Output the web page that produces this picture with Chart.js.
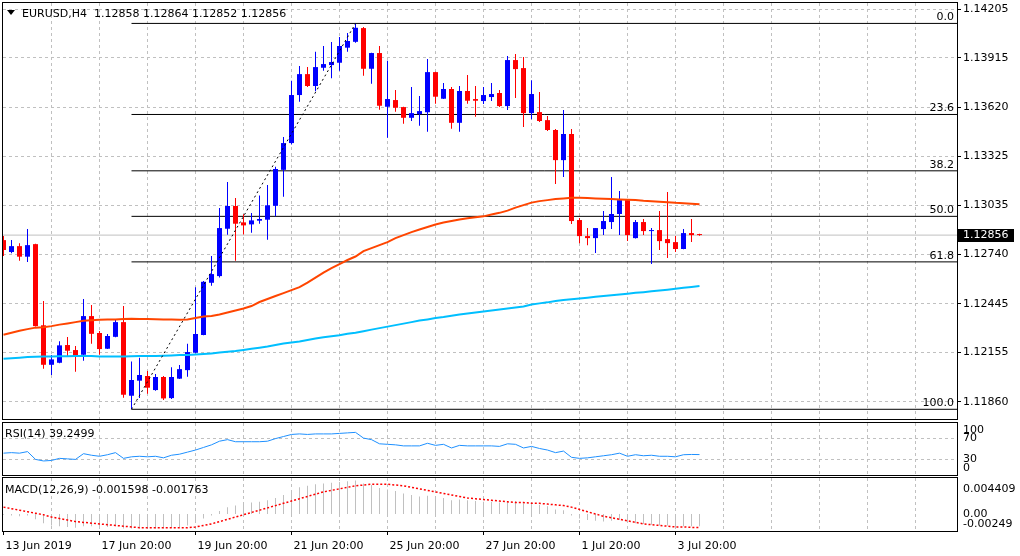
<!DOCTYPE html>
<html>
<head>
<meta charset="utf-8">
<title>EURUSD,H4</title>
<script src="https://cdn.jsdelivr.net/npm/chart.js@4.4.0/dist/chart.umd.min.js"></script>
<style>
  html, body { margin: 0; padding: 0; background: #fff; }
  #wrap { position: relative; width: 1020px; height: 556px; overflow: hidden; background: #fff;
          font-family: "DejaVu Sans", sans-serif; font-size: 11px; color: #000; }
  #wrap canvas { position: absolute; left: 0; }
  .txt { position: absolute; white-space: pre; line-height: 13px; }
  #tri { position: absolute; left: 7px; top: 10px; width: 0; height: 0;
         border-left: 4px solid transparent; border-right: 4px solid transparent; border-top: 5px solid #000; }
</style>
</head>
<body>
<div id="wrap">
  <canvas id="mainChart" width="1020" height="421" style="top:0"></canvas>
  <canvas id="rsiChart" width="1020" height="56" style="top:421px"></canvas>
  <canvas id="macdChart" width="1020" height="79" style="top:477px"></canvas>
  <div id="tri"></div>
  <div class="txt" id="headTxt" style="left:22px;top:7px"></div>
  <div class="txt" id="rsiTxt" style="left:5px;top:427px"></div>
  <div class="txt" id="macdTxt" style="left:5px;top:483px"></div>
</div>
<script>
// ---- data (one entry per bar) ----
const symbol = 'EURUSD,H4';
const dateLabels = ['13 Jun 2019', '17 Jun 20:00', '19 Jun 20:00', '21 Jun 20:00',
                    '25 Jun 20:00', '27 Jun 20:00', '1 Jul 20:00', '3 Jul 20:00'];
const priceTicks = [1.14205, 1.13915, 1.13620, 1.13325, 1.13035, 1.12740, 1.12445, 1.12155, 1.11860];

const opens = [1.12826,1.12755,1.12790,1.12727,1.12802,1.12317,1.12081,1.12093,1.12199,1.12169,
 1.12141,1.12372,1.12271,1.12177,1.12248,1.12336,1.11896,1.11986,1.12014,1.11930,
 1.12008,1.11882,1.11998,1.12049,1.12153,1.12259,1.12571,1.12611,1.12894,1.13030,
 1.12932,1.12920,1.12942,1.12948,1.13031,1.13246,1.13406,1.13693,1.13818,1.13747,
 1.13856,1.13872,1.13886,1.13976,1.14011,1.14093,1.13850,1.13944,1.13623,1.13663,
 1.13621,1.13557,1.13579,1.13590,1.13830,1.13671,1.13729,1.13527,1.13717,1.13669,
 1.13657,1.13681,1.13705,1.13627,1.13902,1.13854,1.13585,1.13591,1.13543,1.13484,
 1.13304,1.13460,1.12946,1.12850,1.12838,1.12892,1.12934,1.12982,1.13065,1.12838,
 1.12934,1.12880,1.12886,1.12832,1.12814,1.12773,1.12868,1.12858];
const highs = [1.12850,1.12826,1.12807,1.12892,1.12805,1.12462,1.12139,1.12221,1.12247,1.12193,
 1.12474,1.12438,1.12283,1.12265,1.12348,1.12432,1.12101,1.12123,1.12044,1.12026,
 1.12014,1.12067,1.12079,1.12207,1.12545,1.12581,1.12731,1.13018,1.13173,1.13077,
 1.12980,1.12988,1.13093,1.13155,1.13264,1.13442,1.13778,1.13866,1.13860,1.13952,
 1.13986,1.14010,1.14040,1.14063,1.14121,1.14099,1.13946,1.13986,1.13898,1.13723,
 1.13623,1.13741,1.13687,1.13908,1.13832,1.13765,1.13741,1.13747,1.13812,1.13747,
 1.13741,1.13765,1.13723,1.13926,1.13938,1.13920,1.13782,1.13711,1.13567,1.13490,
 1.13603,1.13490,1.12958,1.12898,1.12898,1.13000,1.13203,1.13119,1.13067,1.12946,
 1.12952,1.12898,1.13000,1.13113,1.12850,1.12892,1.12952,1.12864];
const lows = [1.12731,1.12747,1.12703,1.12695,1.12310,1.12057,1.12020,1.12090,1.12133,1.12039,
 1.12105,1.12207,1.12141,1.12175,1.12246,1.11884,1.11815,1.11882,1.11908,1.11926,
 1.11870,1.11876,1.11996,1.12009,1.12150,1.12257,1.12553,1.12603,1.12858,1.12703,
 1.12859,1.12870,1.12924,1.12828,1.12968,1.13085,1.13398,1.13653,1.13741,1.13715,
 1.13838,1.13793,1.13838,1.13952,1.14005,1.13808,1.13760,1.13605,1.13438,1.13593,
 1.13521,1.13538,1.13509,1.13474,1.13641,1.13669,1.13492,1.13474,1.13641,1.13563,
 1.13639,1.13657,1.13621,1.13603,1.13675,1.13502,1.13549,1.13532,1.13478,1.13161,
 1.13203,1.12922,1.12808,1.12796,1.12749,1.12856,1.12892,1.12856,1.12820,1.12836,
 1.12856,1.12683,1.12767,1.12719,1.12755,1.12771,1.12814,1.12852];
const closes = [1.12767,1.12790,1.12727,1.12796,1.12312,1.12081,1.12113,1.12197,1.12165,1.12135,
 1.12372,1.12266,1.12175,1.12253,1.12336,1.11902,1.11990,1.12020,1.11944,1.12008,
 1.11880,1.12008,1.12055,1.12157,1.12265,1.12577,1.12623,1.12898,1.13030,1.12924,
 1.12914,1.12944,1.12952,1.13034,1.13251,1.13406,1.13693,1.13818,1.13747,1.13860,
 1.13878,1.13890,1.13986,1.14016,1.14095,1.13850,1.13944,1.13629,1.13669,1.13617,
 1.13557,1.13585,1.13597,1.13830,1.13683,1.13729,1.13527,1.13717,1.13659,1.13659,
 1.13693,1.13699,1.13627,1.13902,1.13848,1.13585,1.13699,1.13538,1.13484,1.13304,
 1.13460,1.12940,1.12850,1.12838,1.12898,1.12940,1.12982,1.13065,1.12856,1.12934,
 1.12880,1.12886,1.12820,1.12808,1.12773,1.12868,1.12856,1.12856];

// moving averages (orange-red and sky blue)
const maSlow = [1.12260,1.12272,1.12284,1.12294,1.12303,1.12306,1.12312,1.12321,1.12328,1.12336,
 1.12344,1.12347,1.12350,1.12351,1.12352,1.12355,1.12356,1.12355,1.12354,1.12353,
 1.12352,1.12351,1.12350,1.12351,1.12360,1.12369,1.12373,1.12381,1.12393,1.12405,
 1.12417,1.12432,1.12456,1.12474,1.12492,1.12509,1.12527,1.12545,1.12572,1.12602,
 1.12632,1.12659,1.12683,1.12707,1.12728,1.12760,1.12778,1.12796,1.12814,1.12838,
 1.12856,1.12874,1.12889,1.12904,1.12919,1.12931,1.12940,1.12949,1.12956,1.12962,
 1.12968,1.12979,1.12989,1.13002,1.13020,1.13035,1.13050,1.13059,1.13065,1.13071,
 1.13075,1.13079,1.13079,1.13077,1.13075,1.13073,1.13071,1.13069,1.13067,1.13065,
 1.13061,1.13059,1.13056,1.13053,1.13049,1.13047,1.13044,1.13041];
const maSlower = [1.12117,1.12120,1.12123,1.12127,1.12129,1.12130,1.12131,1.12132,1.12132,1.12133,
 1.12133,1.12133,1.12130,1.12130,1.12130,1.12131,1.12132,1.12133,1.12133,1.12134,
 1.12135,1.12137,1.12139,1.12140,1.12142,1.12145,1.12149,1.12154,1.12159,1.12163,
 1.12170,1.12177,1.12183,1.12190,1.12199,1.12208,1.12214,1.12220,1.12229,1.12238,
 1.12246,1.12252,1.12258,1.12266,1.12273,1.12282,1.12291,1.12300,1.12309,1.12318,
 1.12327,1.12336,1.12345,1.12352,1.12360,1.12366,1.12374,1.12381,1.12387,1.12393,
 1.12399,1.12405,1.12411,1.12417,1.12423,1.12429,1.12441,1.12448,1.12454,1.12462,
 1.12468,1.12472,1.12477,1.12482,1.12487,1.12492,1.12496,1.12501,1.12506,1.12511,
 1.12515,1.12520,1.12525,1.12530,1.12536,1.12541,1.12546,1.12552];

const rsi = [42,43,42,45,30,27,28,32,31,30,
 41,38,36,39,43,32,35,36,35,36,
 33,38,40,44,48,53,58,65,68,64,
 64,64,64,65,70,74,78,79,78,79,
 79,79,80,81,82,71,68,60,59,58,
 56,56,56,61,57,59,52,57,56,56,
 56,56,55,60,59,52,55,51,48,43,
 46,34,32,33,35,37,39,42,36,39,
 37,38,36,36,35,39,39.5,39.2499];
const rsiLevels = [100, 70, 30, 0];

const macdMain = [-0.0001,-0.0002,-0.0003,-0.0002,-0.0007,-0.0012,-0.0015,-0.0016,-0.0017,-0.0018,
 -0.0016,-0.0016,-0.0017,-0.0017,-0.0016,-0.0019,-0.0019,-0.0019,-0.0019,-0.0019,
 -0.0019,-0.0018,-0.0017,-0.0015,-0.0011,-0.0006,-0.0002,0.0004,0.0009,0.0011,
 0.0013,0.0015,0.0016,0.0018,0.0021,0.0025,0.0031,0.0035,0.0037,0.0039,
 0.0040,0.0041,0.0042,0.0043,0.0044,0.0040,0.0038,0.0034,0.0032,0.0030,
 0.0027,0.0025,0.0023,0.0024,0.0022,0.0021,0.0018,0.0019,0.0018,0.0017,
 0.0016,0.0016,0.0015,0.0017,0.0017,0.0014,0.0014,0.0012,0.0010,0.0006,
 0.0005,-0.0002,-0.0006,-0.0008,-0.0009,-0.0010,-0.0009,-0.0008,-0.0011,-0.0012,
 -0.0013,-0.0014,-0.0015,-0.0015,-0.0016,-0.0016,-0.0016,-0.001598];
const macdSignal = [0.0009,0.0007,0.0005,0.0003,0.0001,-0.0001,-0.0004,-0.0006,-0.0008,-0.0010,
 -0.0011,-0.0012,-0.0013,-0.0014,-0.0015,-0.0016,-0.0017,-0.0018,-0.0018,-0.0018,
 -0.0018,-0.0018,-0.0018,-0.0018,-0.0017,-0.0015,-0.0013,-0.0010,-0.0007,-0.0004,
 -0.0001,0.0002,0.0005,0.0008,0.0011,0.0014,0.0017,0.0020,0.0023,0.0026,
 0.0029,0.0031,0.0033,0.0035,0.0037,0.0038,0.0039,0.0039,0.0039,0.0038,
 0.0037,0.0035,0.0033,0.0031,0.0029,0.0027,0.0025,0.0023,0.0021,0.0020,
 0.0019,0.0018,0.0017,0.0016,0.0015,0.0015,0.0014,0.0014,0.0013,0.0012,
 0.0011,0.0009,0.0006,0.0003,0.0000,-0.0003,-0.0005,-0.0007,-0.0009,-0.0011,
 -0.0013,-0.0014,-0.0015,-0.0016,-0.0017,-0.0017,-0.00176,-0.001763];
const macdLevels = [0.004409, 0, -0.00249];
const macdLevelLabels = ['0.004409', '0.00', '-0.00249'];

// fibonacci retracement drawn from the 18 Jun low to the 25 Jun high
const fibLowBar = 16, fibHighBar = 44;
const fibLow = 1.11815, fibHigh = 1.14121;
const fibLevels = [0, 23.6, 38.2, 50, 61.8, 100];

// ---- layout constants ----
const X_MIN = -0.0625, X_MAX = 119.1875;   // 8px per bar over a 954px plot
const GRID_STEP = 6, LABEL_STEP = 12;
const AXIS_W = 63;
const FONT = { family: 'DejaVu Sans', size: 11 };
const GRID = '#c0c0c0';
const BULL = '#0000ff', BEAR = '#ff0000';

const n = closes.length;
const bars = closes.map((_, i) => i);
const last = closes[n - 1];
const candleColor = bars.map(i => closes[i] >= opens[i] ? BULL : BEAR);
const fibPrice = lv => fibHigh - (fibHigh - fibLow) * lv / 100;

document.getElementById('headTxt').textContent =
  symbol + '  ' + [opens[n-1], highs[n-1], lows[n-1], closes[n-1]].map(v => v.toFixed(5)).join(' ');
document.getElementById('rsiTxt').textContent = 'RSI(14) ' + rsi[n - 1].toFixed(4);
document.getElementById('macdTxt').textContent =
  'MACD(12,26,9) ' + macdMain[n - 1].toFixed(6) + ' ' + macdSignal[n - 1].toFixed(6);

Chart.defaults.font.family = FONT.family;
Chart.defaults.font.size = FONT.size;
Chart.defaults.color = '#000';

const gridTicks = [];
for (let v = 0; v <= X_MAX; v += GRID_STEP) gridTicks.push(v);

const noPad = s => { s.paddingTop = 0; s.paddingBottom = 0; s.paddingLeft = 0; s.paddingRight = 0; };

function xAxis(withLabels) {
  return {
    type: 'linear', min: X_MIN, max: X_MAX, offset: false,
    afterBuildTicks: s => { s.ticks = gridTicks.map(v => ({ value: v })); },
    afterFit: s => { s.height = withLabels ? 25 : 0; noPad(s); },
    grid: {
      offset: false,
      color: c => (c.tick && c.tick.value === 0) ? 'rgba(0,0,0,0)' : GRID,
      drawTicks: withLabels, tickLength: 4,
      tickColor: c => (c.tick && c.tick.value % LABEL_STEP === 0 && dateLabels[c.tick.value / LABEL_STEP]) ? '#000' : 'rgba(0,0,0,0)'
    },
    border: { display: false, dash: [3, 3] },
    ticks: {
      display: withLabels, autoSkip: false, maxRotation: 0, align: 'start', labelOffset: 2, padding: 5,
      callback: v => (v % LABEL_STEP === 0 && dateLabels[v / LABEL_STEP]) || ''
    }
  };
}

const framePlugin = {
  id: 'frame',
  afterDraw(chart) {
    const { ctx, chartArea: a } = chart;
    ctx.save();
    ctx.strokeStyle = '#000';
    ctx.lineWidth = 1;
    ctx.strokeRect(a.left - 0.5, a.top - 0.5, a.right - a.left + 1, a.bottom - a.top + 1);
    ctx.restore();
  }
};

const sideLabels = {
  id: 'sideLabels',
  afterDraw(chart, args, opts) {
    const s = chart.scales.y, a = chart.chartArea, ctx = chart.ctx;
    ctx.save();
    ctx.font = '11px "DejaVu Sans"';
    ctx.fillStyle = '#000';
    ctx.textAlign = 'left';
    ctx.textBaseline = 'middle';
    opts.values.forEach((v, i) => {
      let py = s.getPixelForValue(v);
      py = Math.min(Math.max(py, a.top + opts.topInset), a.bottom - 7);
      ctx.fillText(opts.labels[i], a.right + 6, py);
    });
    ctx.restore();
  }
};

const fibText = {
  id: 'fibText',
  afterDraw(chart) {
    const s = chart.scales.y, a = chart.chartArea, ctx = chart.ctx;
    ctx.save();
    ctx.font = '11px "DejaVu Sans"';
    ctx.fillStyle = '#000';
    ctx.textAlign = 'right';
    ctx.textBaseline = 'alphabetic';
    fibLevels.forEach(lv => ctx.fillText(lv.toFixed(1), a.right - 3, s.getPixelForValue(fibPrice(lv)) - 3));
    // bid price tag on the axis
    const py = Math.round(s.getPixelForValue(last));
    ctx.fillStyle = '#000';
    ctx.fillRect(a.right + 1, py - 6, 56, 13);
    ctx.fillStyle = '#fff';
    ctx.textAlign = 'left';
    ctx.textBaseline = 'middle';
    ctx.fillText(last.toFixed(5), a.right + 6, py + 0.5);
    ctx.restore();
  }
};

const common = {
  responsive: false, animation: false, devicePixelRatio: 1, events: [],
  plugins: { legend: { display: false }, tooltip: { enabled: false } }
};

// ---- main price window ----
const fibSets = fibLevels.map(lv => ({
  type: 'line', order: 8,
  data: [{ x: fibLowBar, y: fibPrice(lv) }, { x: X_MAX, y: fibPrice(lv) }],
  borderColor: '#000', borderWidth: 1, pointRadius: 0
}));

new Chart(document.getElementById('mainChart'), {
  type: 'bar',
  data: {
    datasets: [
      { type: 'line', order: 10, data: [{ x: X_MIN, y: last }, { x: X_MAX, y: last }],
        borderColor: GRID, borderWidth: 1, pointRadius: 0 },
      ...fibSets,
      { order: 6, data: bars.map(i => ({ x: i, y: [lows[i], highs[i]] })),
        backgroundColor: candleColor, grouped: false, maxBarThickness: 1, minBarLength: 1 },
      { order: 5, data: bars.map(i => ({ x: i, y: [opens[i], closes[i]] })),
        backgroundColor: candleColor, grouped: false, maxBarThickness: 5, minBarLength: 1 },
      { type: 'line', order: 3, data: bars.map(i => ({ x: i, y: maSlow[i] })),
        borderColor: '#ff4500', borderWidth: 2, pointRadius: 0, tension: 0 },
      { type: 'line', order: 3, data: bars.map(i => ({ x: i, y: maSlower[i] })),
        borderColor: '#00bfff', borderWidth: 2, pointRadius: 0, tension: 0 },
      { type: 'line', order: 2,
        data: [{ x: fibLowBar, y: fibLow }, { x: fibHighBar, y: fibHigh }],
        borderColor: '#000', borderWidth: 1, borderDash: [2, 3], pointRadius: 0 }
    ]
  },
  options: {
    ...common,
    layout: { autoPadding: false, padding: { left: 3, top: 3, right: 0, bottom: 2 } },
    scales: {
      x: xAxis(false),
      y: {
        position: 'right', min: 1.11757, max: 1.14243,
        afterBuildTicks: s => { s.ticks = priceTicks.map(v => ({ value: v })); },
        afterFit: s => { s.width = AXIS_W; noPad(s); },
        grid: { color: GRID, tickLength: 4, tickColor: '#000' },
        border: { display: false, dash: [3, 3] },
        ticks: { padding: 2, callback: v => v.toFixed(5) }
      }
    }
  },
  plugins: [framePlugin, fibText]
});

// ---- RSI window ----
new Chart(document.getElementById('rsiChart'), {
  type: 'line',
  data: {
    datasets: [{ data: bars.map(i => ({ x: i, y: rsi[i] })), borderColor: '#1e90ff',
                 borderWidth: 1, pointRadius: 0, tension: 0 }]
  },
  options: {
    ...common,
    layout: { autoPadding: false, padding: { left: 3, top: 2, right: 0, bottom: 2 } },
    plugins: { ...common.plugins, sideLabels: { values: rsiLevels, labels: rsiLevels.map(String), topInset: 7 } },
    scales: {
      x: xAxis(false),
      y: {
        position: 'right', min: 0, max: 100,
        afterBuildTicks: s => { s.ticks = rsiLevels.map(v => ({ value: v })); },
        afterFit: s => { s.width = AXIS_W; noPad(s); },
        grid: { color: c => (c.tick && (c.tick.value === 70 || c.tick.value === 30)) ? GRID : 'rgba(0,0,0,0)',
                drawTicks: false },
        border: { display: false, dash: [3, 3] },
        ticks: { display: false }
      }
    }
  },
  plugins: [framePlugin, sideLabels]
});

// ---- MACD window ----
new Chart(document.getElementById('macdChart'), {
  type: 'bar',
  data: {
    datasets: [
      { type: 'line', order: 1, data: bars.map(i => ({ x: i, y: macdSignal[i] })),
        borderColor: '#ff0000', borderWidth: 1.5, borderDash: [2, 2], pointRadius: 0, tension: 0 },
      { order: 2, data: bars.map(i => ({ x: i, y: macdMain[i] })),
        backgroundColor: GRID, grouped: false, maxBarThickness: 1 }
    ]
  },
  options: {
    ...common,
    layout: { autoPadding: false, padding: { left: 3, top: 1, right: 0, bottom: 0 } },
    plugins: { ...common.plugins, sideLabels: { values: macdLevels, labels: macdLevelLabels, topInset: 11 } },
    scales: {
      x: xAxis(true),
      y: {
        position: 'right', min: -0.00223, max: 0.00472,
        afterFit: s => { s.width = AXIS_W; noPad(s); },
        grid: { display: false },
        border: { display: false },
        ticks: { display: false }
      }
    }
  },
  plugins: [framePlugin, sideLabels]
});
</script>
</body>
</html>
